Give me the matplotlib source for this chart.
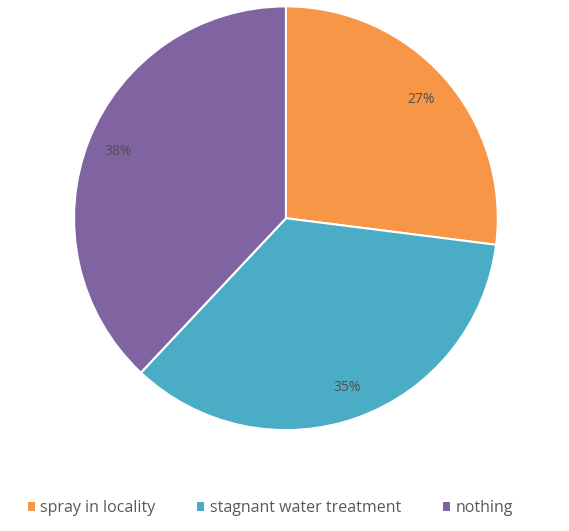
import matplotlib
matplotlib.use("Agg")
import matplotlib.pyplot as plt
from matplotlib.patches import Patch

# Share of responses per measure
labels = ["spray in locality", "stagnant water treatment", "nothing"]
shares = [27, 35, 38]
colors = ["#F79646", "#4BACC6", "#8064A2"]

plt.rcParams['font.family'] = ['Open Sans', 'DejaVu Sans']

fig = plt.figure(figsize=(5.69, 5.31), dpi=100)
ax = fig.add_axes([0.130, 0.190, 0.745, 0.798])

wedges, texts, autotexts = ax.pie(
    shares, colors=colors, startangle=90, counterclock=False,
    autopct='%d%%', pctdistance=0.85,
    wedgeprops=dict(edgecolor='white', linewidth=1.5),
    textprops=dict(color='#505050', fontsize=10),
)
ax.set_xlim(-1.0, 1.0)
ax.set_ylim(-1.0, 1.0)
ax.set_aspect('equal')

handles = [Patch(facecolor=c, edgecolor='none') for c in colors]
fig.legend(handles, labels, loc='center', bbox_to_anchor=(0.475, 0.043),
           ncol=3, frameon=False, fontsize=11.5, handlelength=0.45, handleheight=0.45,
           handletextpad=0.35, columnspacing=2.6, labelcolor='#595959')

fig.savefig("out.png", dpi=100)
